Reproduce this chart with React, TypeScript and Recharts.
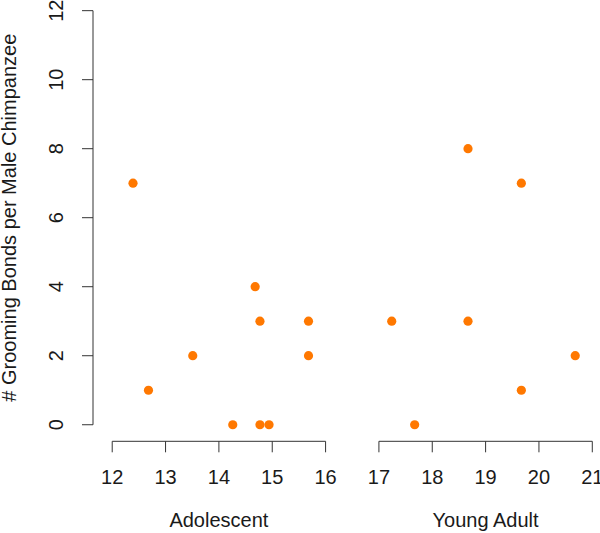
import React from 'react'
import {
  ScatterChart,
  Scatter,
  XAxis,
  YAxis,
  ReferenceLine,
  ReferenceDot,
} from 'recharts'

// group names and the age span each one covers on the x axis
const groups = ['Adolescent', 'Young Adult']
const groupRanges = [
  [12, 16],
  [17, 21],
]

// adolescent males: age (years) and number of grooming bonds
const adolescentAge = [12.39, 12.68, 13.51, 14.26, 14.68, 14.77, 14.77, 14.94, 15.68, 15.68]
const adolescentBonds = [7, 1, 2, 0, 4, 3, 0, 0, 3, 2]

// young adult males
const youngAdultAge = [17.24, 17.67, 18.67, 18.67, 19.67, 19.67, 20.68]
const youngAdultBonds = [3, 0, 8, 3, 7, 1, 2]

const xTicks = [12, 13, 14, 15, 16, 17, 18, 19, 20, 21]
const yTicks = [0, 2, 4, 6, 8, 10, 12]

const FONT = '"Liberation Sans", Arial, Helvetica, sans-serif'
const TEXT = '#1a1a1a'
const AXIS = '#333333'
const DOT = '#ff7800'

// R style 4% padding around the data range
const xMin = 12 - 0.04 * 9
const xMax = 21 + 0.04 * 9
const yMin = 0 - 0.04 * 12
const yMax = 12 + 0.04 * 12

const points = [
  ...adolescentAge.map((age, i) => ({ age, bonds: adolescentBonds[i] })),
  ...youngAdultAge.map((age, i) => ({ age, bonds: youngAdultBonds[i] })),
]

const YTick = (props: any) => {
  const { x, y, payload } = props
  const bx = x - 16.5
  return (
    <text
      x={bx}
      y={y}
      transform={`rotate(-90, ${bx}, ${y})`}
      textAnchor="middle"
      fill={TEXT}
      fontSize={20}
      fontFamily={FONT}
    >
      {payload.value}
    </text>
  )
}

const YTitle = (props: any) => {
  const vb = props.viewBox
  const cy = vb.y + vb.height / 2
  const bx = 16.5
  return (
    <text
      x={bx}
      y={cy}
      transform={`rotate(-90, ${bx}, ${cy})`}
      textAnchor="middle"
      fill={TEXT}
      fontSize={20}
      fontFamily={FONT}
    >
      # Grooming Bonds per Male Chimpanzee
    </text>
  )
}

// group name drawn under the axis, below the tick labels
const groupLabel = (name: string) => (props: any) => {
  const vb = props.viewBox
  const cx = vb.x + vb.width / 2
  const cy = vb.y + vb.height / 2
  return (
    <text x={cx} y={cy + 86} textAnchor="middle" fill={TEXT} fontSize={20} fontFamily={FONT}>
      {name}
    </text>
  )
}

export default function App() {
  return (
    <div
      style={{
        position: 'absolute',
        left: 0,
        top: 0,
        width: 600,
        height: 533,
        overflow: 'hidden',
        background: '#fff',
      }}
    >
      <div style={{ position: 'absolute', left: 0, top: -20 }}>
        <ScatterChart
          width={620}
          height={560}
          margin={{ top: 14.1, right: 8.5, bottom: 0, left: 0 }}
        >
          <XAxis
            type="number"
            dataKey="age"
            domain={[xMin, xMax]}
            ticks={xTicks}
            interval={0}
            axisLine={false}
            tickLine={{ stroke: AXIS }}
            tickSize={11}
            tickMargin={17.8}
            height={98.7}
            tick={{ fill: TEXT, fontSize: 20, fontFamily: FONT }}
          />
          <YAxis
            type="number"
            dataKey="bonds"
            domain={[yMin, yMax]}
            ticks={yTicks}
            interval={0}
            width={93}
            axisLine={false}
            tickLine={{ stroke: AXIS }}
            tickSize={11}
            tickMargin={2}
            tick={<YTick />}
            label={{ content: <YTitle /> }}
          />
          <ReferenceLine
            segment={[
              { x: xMin, y: 0 },
              { x: xMin, y: 12 },
            ]}
            stroke={AXIS}
            ifOverflow="visible"
          />
          {groupRanges.map(([a, b], i) => (
            <ReferenceLine
              key={a}
              segment={[
                { x: a, y: yMin },
                { x: b, y: yMin },
              ]}
              stroke={AXIS}
              ifOverflow="visible"
            />
          ))}
          {groupRanges.map(([a, b], i) => (
            <ReferenceDot
              key={'g' + a}
              x={(a + b) / 2}
              y={yMin}
              r={0}
              fill="none"
              stroke="none"
              ifOverflow="visible"
              label={{ content: groupLabel(groups[i]) }}
            />
          ))}
          <Scatter
            data={points}
            isAnimationActive={false}
            shape={(p: any) => <circle cx={p.cx} cy={p.cy} r={4.6} fill={DOT} />}
          />
        </ScatterChart>
      </div>
    </div>
  )
}
